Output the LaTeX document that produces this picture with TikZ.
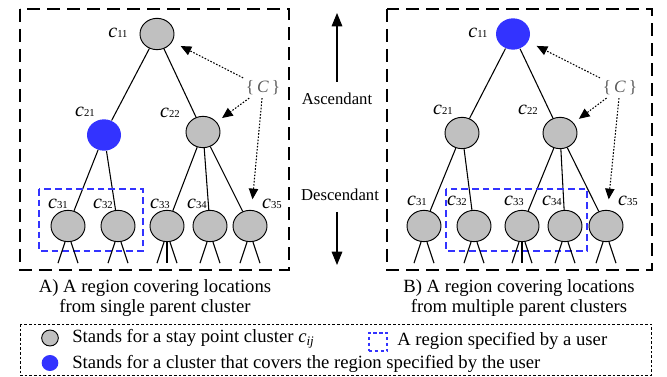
\documentclass[tikz,border=0pt]{standalone}
\usepackage{fontspec}
\setmainfont{Liberation Serif}
\usetikzlibrary{shapes.geometric,arrows.meta,positioning}

\definecolor{regionblue}{RGB}{51,51,255}
\definecolor{clustergray}{RGB}{192,192,192}
\definecolor{setgray}{RGB}{90,90,90}
\newcommand{\clname}[1]{{\fontsize{15}{15}\selectfont\itshape c}{\fontsize{8}{8}\selectfont #1}}

\tikzset{
  cluster/.style={ellipse, draw=black, line width=0.7pt, fill=clustergray,
    minimum width=25.5pt, minimum height=23.5pt, inner sep=0pt},
  cover/.style={cluster, draw=none, fill=regionblue},
  branch/.style={line width=0.8pt},
  panel/.style={line width=1.6pt, dash pattern=on 10pt off 5pt},
  region/.style={color=regionblue, line width=1pt, dash pattern=on 5pt off 3pt},
  pointer/.style={line width=0.8pt, dash pattern=on 1.2pt off 1.2pt,
    -{Triangle[length=8pt,width=7pt,sep=0pt]}},
  trend/.style={line width=0.8pt, -{Triangle[length=10pt,width=8pt]}},
  lab/.style={inner sep=0pt},
  txt/.style={font=\fontsize{14}{15}\selectfont, inner sep=0pt},
  sidetxt/.style={font=\fontsize{12.5}{15}\selectfont, inner sep=0pt},
  setname/.style={text=setgray, font=\fontsize{13}{13}\selectfont, inner sep=2pt},
}

\begin{document}
\begin{tikzpicture}[x=0.75pt,y=-0.75pt]
\useasboundingbox (0,0) rectangle (667,377);

% Draw the two panels.
\draw[panel] (20,9) rectangle (289,270);
\draw[panel] (387,9) rectangle (652,270);

% Tree A: region under a single parent.
\node[cluster] (a11) at (157,34) {};
\node[cover] (a21) at (104,135) {};
\node[cluster] (a22) at (203,132) {};
\foreach \n/\x in {31/68,32/118,33/167,34/210,35/250}
\node[cluster] (a\n) at (\x,226) {};
\draw[branch] (a11) -- (a21);
\draw[branch] (a11) -- (a22);
\foreach \n in {31,32}
\draw[branch] (a21) -- (a\n);
\foreach \n in {33,34,35}
\draw[branch] (a22) -- (a\n);

\node[lab] (la11) at (118,33) {\clname{11}};
\node[lab] (la21) at (85,112) {\clname{21}};
\node[lab] (la22) at (170,113) {\clname{22}};
\foreach \n/\x in {31/58,32/103,33/160,34/197,35/272}
\node[lab] (la\n) at (\x,204) {\clname{\n}};

\draw[region] (39,189) rectangle (143,251);

\node[setname] (setA) at (263,88) {\{\,\textit{C}\,\}};
\draw[pointer, shorten >=7pt] (setA) -- (a11);
\draw[pointer, shorten >=5pt] (setA) -- (a22);
\draw[pointer, shorten >=8pt] (setA) -- (a35);

% Tree B: region under several parents.
\node[cover] (b11) at (513,34) {};
\node[cluster] (b21) at (462,133) {};
\node[cluster] (b22) at (560,133) {};
\foreach \n/\x in {31/424,32/474,33/522,34/565,35/606}
\node[cluster] (b\n) at (\x,226) {};
\draw[branch] (b11) -- (b21);
\draw[branch] (b11) -- (b22);
\foreach \n in {31,32}
\draw[branch] (b21) -- (b\n);
\foreach \n in {33,34,35}
\draw[branch] (b22) -- (b\n);

\node[lab] (lb11) at (478,33) {\clname{11}};
\node[lab] (lb21) at (443,110) {\clname{21}};
\node[lab] (lb22) at (528,110) {\clname{22}};
\foreach \n/\x in {31/417,32/457,33/514,34/552,35/628}
\node[lab] (lb\n) at (\x,201) {\clname{\n}};

\draw[region] (446,189) rectangle (587,251);

\node[setname] (setB) at (620,88) {\{\,\textit{C}\,\}};
\draw[pointer, shorten >=7pt] (setB) -- (b11);
\draw[pointer, shorten >=5pt] (setB) -- (b22);
\draw[pointer, shorten >=8pt] (setB) -- (b35);

% Legs under the leaf clusters.
\foreach \n in {a31,a32,a33,a34,a35,b31,b32,b33,b34,b35}{
\draw[branch] (\n.south) ++(-3,0) -- ++(-7,21);
\draw[branch] (\n.south) ++(3,0) -- ++(7,21);
}
\foreach \n in {a33,b33}
\draw[branch] (\n.south) -- ++(0,21);

% Ascendant / descendant.
\node[sidetxt] (asc) at (337,99) {Ascendant};
\node[sidetxt] (desc) at (340,195) {Descendant};
\coordinate (upfoot) at (337,82);
\coordinate (uptip) at (337,13);
\coordinate (downtop) at (337,212);
\coordinate (downtip) at (337,265);
\draw[trend] (upfoot) -- (uptip);
\draw[trend] (downtop) -- (downtip);

% Captions.
\node[txt, align=center] (capA) at (155,298) {A) A region covering locations\\from single parent cluster};
\node[txt, align=center] (capB) at (519,298) {B) A region covering locations\\from multiple parent clusters};

% Legend.
\draw[line width=0.5pt, dash pattern=on 2pt off 1.5pt] (20,324) rectangle (651,375.5);
\node[cluster, minimum width=12.5pt, minimum height=12pt] (keyGray) at (50,338) {};
\node[cover, minimum width=12.5pt, minimum height=12pt] (keyBlue) at (50,363) {};
\node[txt, anchor=west] (keyGrayText) at (72,339) {Stands for a stay point cluster \textit{c\textsubscript{ij}}};
\node[txt, anchor=west] (keyBlueText) at (72,364) {Stands for a cluster that covers the region specified by the user};
\node[draw=regionblue, line width=1.3pt, dash pattern=on 2.5pt off 2pt, minimum size=14pt, inner sep=0pt] (keyRegion) at (378,342) {};
\node[txt, anchor=west] (keyRegionText) at (397,341) {A region specified by a user};
\end{tikzpicture}
\end{document}
